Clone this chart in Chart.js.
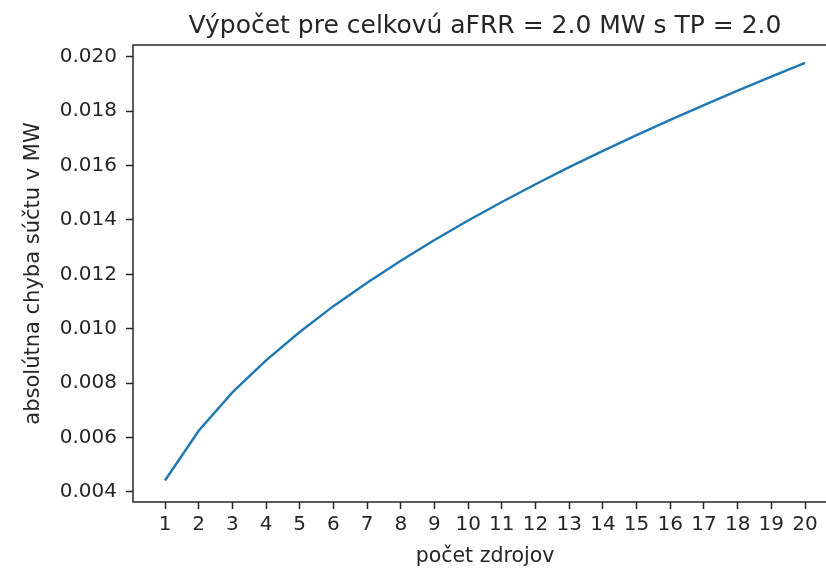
<!DOCTYPE html>
<html>
<head>
<meta charset="utf-8">
<script src="https://cdn.jsdelivr.net/npm/chart.js@4"></script>
<style>
  html, body { margin: 0; padding: 0; background: #fff; overflow: hidden; }
  #wrap { width: 850px; height: 569px; position: relative; }
</style>
</head>
<body>
<div id="wrap"><canvas id="lineChart"></canvas></div>
<script>
const sources = [1, 2, 3, 4, 5, 6, 7, 8, 9, 10, 11, 12, 13, 14, 15, 16, 17, 18, 19, 20];
const errors = [0.00442, 0.00625, 0.00766, 0.00884, 0.00988, 0.01083, 0.01169, 0.0125, 0.01326, 0.01398,
                0.01466, 0.01531, 0.01594, 0.01654, 0.01712, 0.01768, 0.01822, 0.01875, 0.01927, 0.01977];
const xTicks = [1, 2, 3, 4, 5, 6, 7, 8, 9, 10, 11, 12, 13, 14, 15, 16, 17, 18, 19, 20];
const yTicks = [0.004, 0.006, 0.008, 0.010, 0.012, 0.014, 0.016, 0.018, 0.020];
const titleText = 'Výpočet pre celkovú aFRR = 2.0 MW s TP = 2.0';

const font = 'DejaVu Sans';
const ink = '#262626';

// matplotlib-like frame and a title centred over the axes
const frame = {
    id: 'frame',
    afterDraw(chart) {
        const a = chart.chartArea;
        const ctx = chart.ctx;
        ctx.save();
        ctx.strokeStyle = ink;
        ctx.lineWidth = 1.5;
        ctx.strokeRect(a.left, a.top, a.right - a.left, a.bottom - a.top);
        ctx.fillStyle = ink;
        ctx.font = '25px "' + font + '"';
        ctx.textAlign = 'center';
        ctx.textBaseline = 'alphabetic';
        ctx.fillText(titleText, (a.left + a.right) / 2, 33);
        ctx.restore();
    }
};

const ctx = document.getElementById('lineChart').getContext('2d');
const myLineChart = new Chart(ctx, {
    type: 'line',
    data: {
        datasets: [{
            label: 'chyba',
            data: sources.map((s, i) => ({x: s, y: errors[i]})),
            borderColor: '#1f77b4',
            borderWidth: 2.4,
            pointRadius: 0,
            fill: false,
            tension: 0
        }]
    },
    options: {
        responsive: true,
        maintainAspectRatio: false,
        animation: false,
        layout: { padding: { left: 0, right: 13, top: 45, bottom: 0 } },
        plugins: {
            legend: { display: false },
            tooltip: { enabled: false },
            title: { display: false }
        },
        scales: {
            x: {
                type: 'linear',
                min: 0.05,
                max: 20.95,
                afterBuildTicks: (s) => { s.ticks = xTicks.map(v => ({value: v})); },
                afterFit: (s) => { s.height = 67; },
                grid: { drawOnChartArea: false, drawTicks: true, tickLength: 7, tickColor: ink, tickWidth: 1.5 },
                border: { display: false },
                ticks: { color: ink, font: { family: font, size: 20 }, padding: 4, maxRotation: 0, autoSkip: false },
                title: { display: true, text: 'počet zdrojov', color: ink,
                         font: { family: font, size: 20.5 }, padding: { top: 0, bottom: 0 } }
            },
            y: {
                min: 0.00363,
                max: 0.02043,
                afterBuildTicks: (s) => { s.ticks = yTicks.map(v => ({value: v})); },
                afterFit: (s) => { s.width = 133; },
                grid: { drawOnChartArea: false, drawTicks: true, tickLength: 7, tickColor: ink, tickWidth: 1.5 },
                border: { display: false },
                ticks: { color: ink, font: { family: font, size: 20 }, padding: 9,
                         callback: (v) => v.toFixed(3) },
                title: { display: true, text: 'absolútna chyba súčtu v MW', color: ink,
                         font: { family: font, size: 21 }, padding: { top: 21, bottom: 0 } }
            }
        }
    },
    plugins: [frame]
});
</script>
</body>
</html>
